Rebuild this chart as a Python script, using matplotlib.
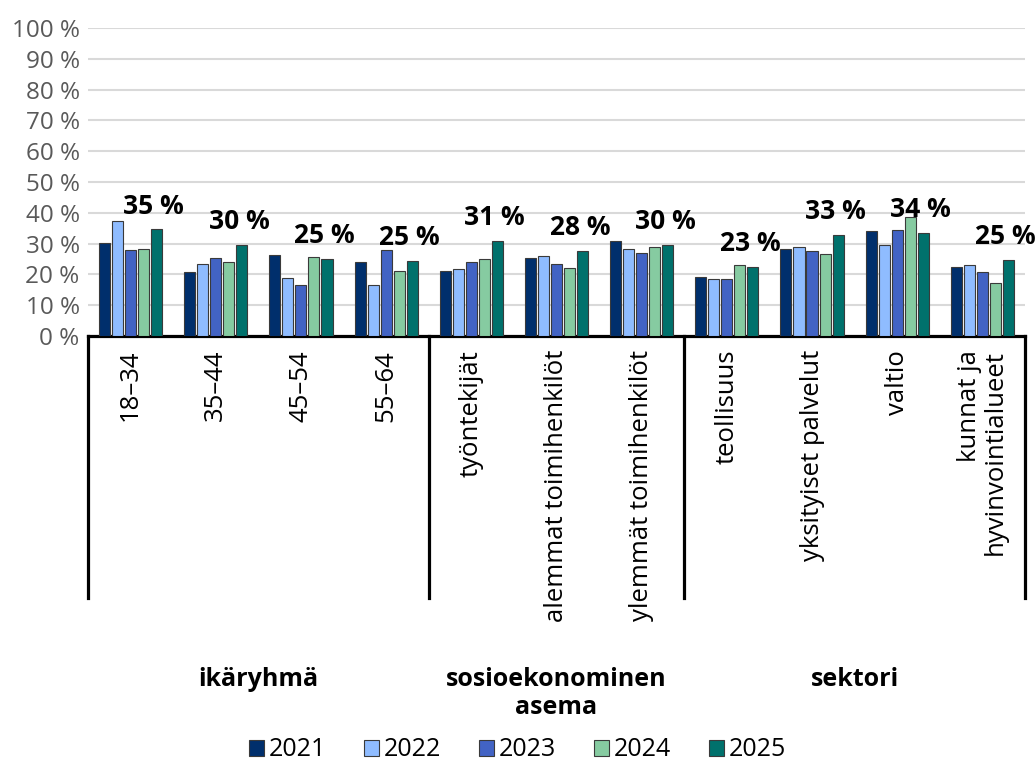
import numpy as np
import matplotlib
matplotlib.use("Agg")
import matplotlib.pyplot as plt
from matplotlib.transforms import blended_transform_factory
from matplotlib.lines import Line2D

plt.rcParams["font.family"] = ["Open Sans", "DejaVu Sans"]

# 分类与数据
categories = ["18–34", "35–44", "45–54", "55–64",
              "työntekijät", "alemmat toimihenkilöt", "ylemmät toimihenkilöt",
              "teollisuus", "yksityiset palvelut", "valtio",
              "kunnat ja\nhyvinvointialueet"]
years = ["2021", "2022", "2023", "2024", "2025"]
v2021 = [30.2, 20.8, 26.3, 23.9, 21.1, 25.3, 30.7, 19.3, 28.1, 34.1, 22.5]
v2022 = [37.2, 23.4, 18.8, 16.5, 21.9, 26.1, 28.3, 18.6, 29.0, 29.4, 22.9]
v2023 = [28.0, 25.4, 16.6, 28.0, 24.0, 23.5, 27.1, 18.5, 27.6, 34.5, 20.8]
v2024 = [28.4, 24.0, 25.5, 21.2, 25.1, 22.2, 29.0, 23.1, 26.5, 38.7, 17.1]
v2025 = [34.6, 29.6, 25.0, 24.5, 30.8, 27.6, 29.5, 22.5, 32.8, 33.6, 24.8]
labels_2025 = ["35 %", "30 %", "25 %", "25 %", "31 %", "28 %", "30 %",
               "23 %", "33 %", "34 %", "25 %"]
groups = ["ikäryhmä", "sosioekonominen\nasema", "sektori"]
group_bounds = [(-0.5, 3.5), (3.5, 6.5), (6.5, 10.5)]

colors = ["#002f6c", "#8fbcff", "#4263c4", "#86cba1", "#00716c"]
series = [v2021, v2022, v2023, v2024, v2025]

fig = plt.figure(figsize=(10.35, 7.71), dpi=100)
ax = fig.add_axes([0.085, 0.5642, 0.9053, 0.3995])

x = np.arange(len(categories))
pitch = 0.153
width = 0.13
for i, (vals, col, yr) in enumerate(zip(series, colors, years)):
    ax.bar(x + (i - 2) * pitch, vals, width, color=col, edgecolor="#3a3a3a",
           linewidth=0.8, label=yr, zorder=3)

for xi, v, lab in zip(x, v2025, labels_2025):
    ax.annotate(lab, (xi + 2 * pitch, v), xytext=(-2, 7), textcoords="offset points",
                ha="center", va="bottom", fontsize=19, fontweight="bold", zorder=4)

ax.set_xlim(-0.5, 10.5)
ax.set_ylim(0, 100)
ax.set_yticks(range(0, 101, 10))
ax.set_yticklabels([f"{t} %" for t in range(0, 101, 10)], fontsize=17.5, color="#595959")
ax.yaxis.grid(True, color="#d9d9d9", linewidth=1.5, zorder=0)
ax.set_axisbelow(True)
ax.tick_params(axis="y", length=0, pad=6)

ax.set_xticks(x)
ax.set_xticklabels(categories, rotation=90, fontsize=18.5, va="top", ha="center",
                   multialignment="right", linespacing=1.0)
ax.tick_params(axis="x", length=0, pad=10)

for s in ["left", "right", "top"]:
    ax.spines[s].set_visible(False)
ax.spines["bottom"].set_linewidth(2.3)
ax.spines["bottom"].set_color("black")

trans = blended_transform_factory(ax.transData, ax.transAxes)
for xb in [-0.5, 3.5, 6.5, 10.5]:
    ax.add_line(Line2D([xb, xb], [0, -0.85], transform=trans, color="black",
                       linewidth=2.3, clip_on=False))

for (a, b), g in zip(group_bounds, groups):
    ax.text((a + b) / 2, -1.075, g, transform=trans, ha="center", va="top",
            fontsize=18, fontweight="bold", linespacing=1.15)

fig.legend(loc="lower center", bbox_to_anchor=(0.5, -0.018), ncol=5, frameon=False,
           fontsize=18, handlelength=0.6, handleheight=0.6, handletextpad=0.2,
           columnspacing=1.5)

fig.savefig("out.png", dpi=100)
